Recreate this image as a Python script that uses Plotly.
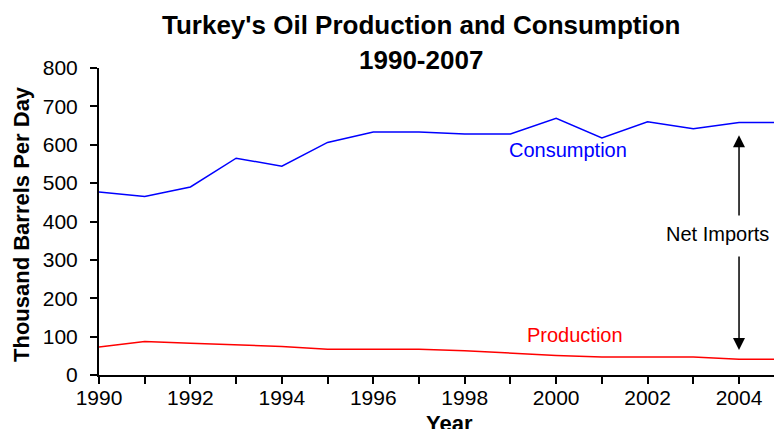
import plotly.graph_objects as go

years = list(range(1990, 2006))
consumption = [477, 465, 490, 565, 544, 606, 633, 633, 628, 628, 669, 618, 660, 642, 658, 658]
production = [73, 87, 83, 78, 74, 67, 67, 67, 63, 57, 51, 47, 47, 47, 41, 41]

title_lines = ["Turkey's Oil Production and Consumption", "1990-2007"]
y_title = "Thousand Barrels Per Day"
x_title = "Year"

# page body has an 8px margin; figure coordinates are screen coordinates minus 8
OFF = 8
L, T, B_SCREEN = 99 - OFF, 68 - OFF, 375 - OFF
W, H = 782 - OFF, 429 - OFF
PW, PH = W - L, B_SCREEN - T


def px_x(sx):
    return (sx - OFF - L) / PW


def px_y(sy):
    return (B_SCREEN - (sy - OFF)) / PH


fig = go.Figure()
fig.add_trace(go.Scatter(x=years, y=consumption, mode="lines", name="Consumption",
                         line=dict(color="#0000FF", width=1.5), showlegend=False))
fig.add_trace(go.Scatter(x=years, y=production, mode="lines", name="Production",
                         line=dict(color="#FF0000", width=1.5), showlegend=False))

tick_font = dict(family="Liberation Sans, Arial, sans-serif", size=21, color="black")

fig.update_layout(
    width=W, height=H,
    margin=dict(l=L, r=0, t=T, b=H - B_SCREEN),
    paper_bgcolor="white", plot_bgcolor="white",
    font=tick_font,
    xaxis=dict(range=[1990, 2004.94], dtick=2, tick0=1990, showgrid=False, zeroline=False,
               showline=True, linecolor="black", linewidth=2,
               ticks="outside", ticklen=7, tickwidth=1.5, tickcolor="black",
               minor=dict(dtick=1, ticks="outside", ticklen=7, tickwidth=1.5, tickcolor="black"),
               tickfont=tick_font, ticklabelstandoff=-4),
    yaxis=dict(range=[0, 800], dtick=100, showgrid=False, zeroline=False,
               showline=True, linecolor="black", linewidth=2,
               ticks="outside", ticklen=7, tickwidth=1.5, tickcolor="black",
               tickfont=tick_font, ticklabelstandoff=8),
)

title_font = dict(family="Liberation Sans, Arial, sans-serif", size=26, color="black")
fig.add_annotation(text="<b>" + title_lines[0] + "</b>", xref="paper", yref="paper",
                   x=px_x(421), y=px_y(25), showarrow=False,
                   xanchor="center", yanchor="middle", font=title_font)
fig.add_annotation(text="<b>" + title_lines[1] + "</b>", xref="paper", yref="paper",
                   x=px_x(421), y=px_y(60), showarrow=False,
                   xanchor="center", yanchor="middle", font=title_font)

axis_title_font = dict(family="Liberation Sans, Arial, sans-serif", size=22, color="black")
fig.add_annotation(text="<b>" + y_title + "</b>", xref="paper", yref="paper",
                   x=px_x(21), y=px_y(224), textangle=-90, showarrow=False,
                   xanchor="center", yanchor="middle", font=axis_title_font)
fig.add_annotation(text="<b>" + x_title + "</b>", xref="paper", yref="paper",
                   x=px_x(449), y=px_y(409), showarrow=False,
                   xanchor="center", yanchor="top", font=axis_title_font)

label_font = dict(family="Liberation Sans, Arial, sans-serif", size=20)
fig.add_annotation(text="Consumption", x=2000.26, y=586, showarrow=False,
                   font=dict(label_font, color="#0000FF"))
fig.add_annotation(text="Production", x=2000.42, y=104, showarrow=False,
                   font=dict(label_font, color="#FF0000"))
fig.add_annotation(text="Net Imports", x=2003.53, y=367, showarrow=False,
                   font=dict(label_font, color="black"))

# Net imports arrows
fig.add_annotation(x=2004, y=625, ax=2004, ay=412, xref="x", yref="y", axref="x", ayref="y",
                   showarrow=True, arrowhead=2, arrowsize=1.6, arrowwidth=1.5, arrowcolor="black", text="")
fig.add_annotation(x=2004, y=65, ax=2004, ay=313, xref="x", yref="y", axref="x", ayref="y",
                   showarrow=True, arrowhead=2, arrowsize=1.6, arrowwidth=1.5, arrowcolor="black", text="")

fig.write_html("out.html")
